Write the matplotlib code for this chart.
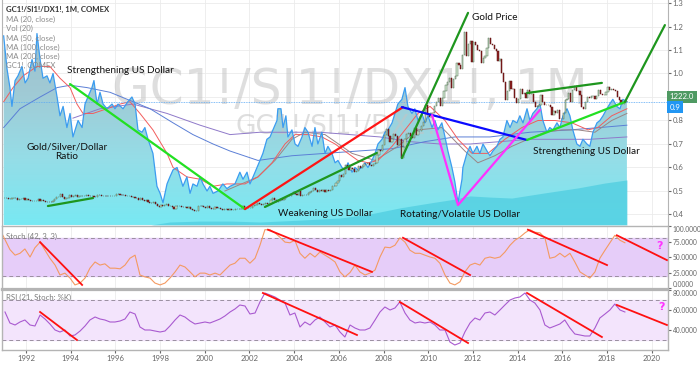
import numpy as np
import matplotlib
matplotlib.use("Agg")
import matplotlib.pyplot as plt
from matplotlib.colors import LinearSegmentedColormap

# ---- GC1!/SI1!/DX1! monthly ratio ----
ratio_years = [1991.00, 1991.15, 1991.28, 1991.37, 1991.51, 1991.64, 1991.82, 1991.96,
               1992.09, 1992.27, 1992.40, 1992.49, 1992.63, 1992.76, 1992.94,
               1993.07, 1993.21, 1993.39, 1993.52, 1993.66, 1993.83, 1993.97,
               1994.10, 1994.33, 1994.51, 1994.64, 1994.77, 1994.95,
               1995.04, 1995.18, 1995.31, 1995.45, 1995.62, 1995.85, 1995.98,
               1996.12, 1996.34, 1996.56, 1996.74, 1996.88,
               1997.01, 1997.19, 1997.32, 1997.46, 1997.68, 1997.86,
               1998.00, 1998.13, 1998.31, 1998.44, 1998.58, 1998.76, 1998.89,
               1999.02, 1999.20, 1999.34, 1999.47, 1999.65, 1999.79, 1999.92,
               2000.10, 2000.23, 2000.37, 2000.59, 2000.81, 2000.99,
               2001.13, 2001.35, 2001.57, 2001.71, 2001.89,
               2002.02, 2002.16, 2002.34, 2002.47, 2002.60, 2002.78, 2002.92,
               2003.05, 2003.23, 2003.27, 2003.41, 2003.50, 2003.63, 2003.72, 2003.90,
               2004.04, 2004.17, 2004.35, 2004.48, 2004.62, 2004.80, 2004.93,
               2005.06, 2005.24, 2005.38, 2005.51, 2005.69, 2005.83, 2005.96,
               2006.14, 2006.27, 2006.41, 2006.59, 2006.72, 2006.85,
               2007.03, 2007.17, 2007.30, 2007.48, 2007.62, 2007.75, 2007.93,
               2008.06, 2008.20, 2008.38, 2008.51, 2008.64, 2008.82, 2008.96,
               2009.09, 2009.27, 2009.40, 2009.54, 2009.72, 2009.85, 2009.99,
               2010.17, 2010.30, 2010.43, 2010.61, 2010.75, 2010.88,
               2011.06, 2011.19, 2011.33, 2011.51, 2011.55, 2011.73, 2011.87,
               2012.00, 2012.18, 2012.31, 2012.45, 2012.63, 2012.76, 2012.89,
               2013.07, 2013.21, 2013.34, 2013.52, 2013.66, 2013.79, 2013.97,
               2014.10, 2014.24, 2014.42, 2014.55, 2014.68, 2014.86,
               2015.00, 2015.13, 2015.31, 2015.44, 2015.58, 2015.76, 2015.89,
               2016.03, 2016.21, 2016.34, 2016.47, 2016.65, 2016.79, 2016.92,
               2017.10, 2017.23, 2017.37, 2017.55, 2017.68, 2017.82, 2017.99,
               2018.12, 2018.26, 2018.44, 2018.58, 2018.71, 2018.89]
ratio_vals = [1.16, 1.02, 0.94, 0.86, 0.97, 0.99, 1.03, 0.96,
              0.98, 1.06, 1.01, 1.17, 1.06, 0.98, 0.99,
              0.96, 1.00, 0.90, 0.82, 0.86, 0.77, 0.83,
              0.73, 0.80, 0.77, 0.87, 0.90, 0.94,
              0.97, 0.87, 0.92, 0.87, 0.85, 0.87, 0.85,
              0.87, 0.85, 0.88, 0.90, 0.87,
              0.76, 0.75, 0.77, 0.72, 0.66, 0.52,
              0.49, 0.45, 0.53, 0.56, 0.59, 0.60, 0.56,
              0.52, 0.56, 0.49, 0.53, 0.52, 0.56, 0.53,
              0.50, 0.52, 0.49, 0.50, 0.53, 0.51,
              0.52, 0.53, 0.58, 0.55, 0.58,
              0.53, 0.56, 0.60, 0.63, 0.66, 0.72, 0.73,
              0.76, 0.80, 0.85, 0.85, 0.77, 0.82, 0.73, 0.76,
              0.70, 0.69, 0.73, 0.77, 0.75, 0.69, 0.77,
              0.70, 0.75, 0.66, 0.69, 0.66, 0.62, 0.63,
              0.60, 0.59, 0.62, 0.58, 0.60, 0.59,
              0.60, 0.62, 0.60, 0.63, 0.66, 0.70, 0.72,
              0.75, 0.76, 0.79, 0.83, 0.87, 0.89, 0.94,
              0.86, 0.83, 0.85, 0.80, 0.83, 0.79, 0.82,
              0.77, 0.80, 0.76, 0.79, 0.73, 0.67,
              0.60, 0.54, 0.45, 0.55, 0.60, 0.66, 0.69,
              0.66, 0.69, 0.66, 0.70, 0.67, 0.65, 0.67,
              0.69, 0.72, 0.73, 0.80, 0.77, 0.80, 0.79,
              0.82, 0.79, 0.85, 0.80, 0.83, 0.85,
              0.87, 0.80, 0.75, 0.77, 0.76, 0.79, 0.77,
              0.82, 0.85, 0.82, 0.76, 0.70, 0.69, 0.72,
              0.70, 0.69, 0.75, 0.79, 0.80, 0.82, 0.85,
              0.87, 0.89, 0.86, 0.85, 0.89, 0.88]

# moving averages of the ratio
ma20_years = [1991.0, 1991.42, 1991.87, 1992.49, 1993.07, 1993.52, 1993.97, 1994.28, 1994.55,
              1995.00, 1995.62, 1996.21, 1996.65, 1997.10, 1997.68, 1998.31, 1998.58, 1999.20,
              1999.79, 2000.37, 2000.99, 2001.80, 2002.38, 2003.01, 2003.59, 2004.04, 2004.62,
              2005.24, 2005.83, 2006.41, 2006.85, 2007.30, 2007.75, 2008.38, 2008.96, 2009.54,
              2010.08, 2010.75, 2011.33, 2011.96, 2012.67, 2013.43, 2014.19, 2014.91, 2015.67,
              2016.43, 2017.15, 2017.59, 2018.21, 2018.89]
ma20_vals = [0.88, 0.94, 0.99, 1.03, 1.03, 0.98, 0.94, 0.87, 0.83,
             0.83, 0.85, 0.87, 0.88, 0.83, 0.76, 0.66, 0.60, 0.56,
             0.55, 0.52, 0.53, 0.53, 0.56, 0.62, 0.70, 0.74, 0.74,
             0.73, 0.70, 0.66, 0.63, 0.62, 0.63, 0.69, 0.76, 0.83,
             0.86, 0.80, 0.72, 0.66, 0.66, 0.72, 0.77, 0.80, 0.80,
             0.79, 0.76, 0.77, 0.82, 0.85]
ma50_years = [2000.90, 2002.38, 2003.14, 2003.90, 2004.48, 2005.38, 2006.59, 2007.62, 2008.64,
              2009.54, 2010.61, 2011.64, 2012.22, 2012.98, 2013.74, 2014.46, 2015.22, 2015.98,
              2016.70, 2017.46, 2018.21, 2018.89]
ma50_vals = [0.50, 0.56, 0.63, 0.72, 0.75, 0.74, 0.66, 0.63, 0.69,
             0.76, 0.77, 0.67, 0.62, 0.65, 0.69, 0.72, 0.75, 0.76,
             0.76, 0.75, 0.80, 0.83]
ma100_years = [1991.0, 1991.73, 1992.63, 1993.39, 1993.97, 1994.73, 1995.76, 1996.79, 1997.55,
               1998.58, 1999.47, 2000.37, 2001.13, 2002.38, 2003.90, 2005.38, 2006.85, 2008.38,
               2009.85, 2011.19, 2012.76, 2014.55, 2016.34, 2017.68, 2018.89]
ma100_vals = [0.77, 0.85, 0.90, 0.94, 0.95, 0.94, 0.92, 0.88, 0.85,
              0.79, 0.74, 0.70, 0.67, 0.63, 0.65, 0.66, 0.67, 0.68,
              0.71, 0.73, 0.73, 0.75, 0.76, 0.77, 0.78]
ma200_years = [1994.10, 1995.31, 1996.79, 1998.31, 1999.79, 2001.13, 2002.47, 2003.81, 2005.15,
               2006.50, 2007.84, 2009.18, 2010.52, 2011.87, 2013.21, 2014.55, 2015.89, 2017.23,
               2018.89]
ma200_vals = [0.81, 0.85, 0.87, 0.83, 0.78, 0.74, 0.75, 0.75, 0.75,
              0.74, 0.73, 0.71, 0.70, 0.70, 0.71, 0.72, 0.72, 0.72,
              0.73]

# Vol (20) band along the bottom
vol_years = [1991.0, 1997.55, 1998.44, 1999.79, 2001.13, 2002.47, 2004.26, 2006.05, 2007.39,
             2008.73, 2010.08, 2010.97, 2011.87, 2012.76, 2013.74, 2015.22, 2016.70, 2017.91,
             2018.89]
vol_vals = [0.355, 0.355, 0.368, 0.372, 0.372, 0.368, 0.376, 0.385, 0.402,
            0.428, 0.449, 0.462, 0.479, 0.474, 0.470, 0.492, 0.513, 0.534,
            0.547]

# GC1! monthly closes, Jan 1991 - Nov 2018
gold_close = [367, 363, 356, 357, 367, 367, 363, 348, 355, 358, 367, 353,
              354, 353, 341, 337, 337, 343, 357, 340, 349, 339, 334, 333,
              330, 328, 338, 355, 378, 378, 402, 372, 355, 370, 371, 391,
              378, 381, 391, 376, 387, 388, 384, 386, 395, 384, 383, 383,
              375, 376, 393, 390, 385, 387, 384, 382, 384, 383, 387, 387,
              405, 400, 396, 392, 391, 382, 385, 387, 379, 379, 371, 369,
              345, 364, 349, 340, 345, 334, 326, 325, 333, 311, 296, 290,
              303, 297, 301, 310, 294, 296, 288, 273, 294, 292, 294, 288,
              287, 287, 280, 286, 268, 262, 256, 254, 299, 300, 292, 290,
              283, 293, 278, 274, 272, 288, 277, 277, 273, 264, 270, 272,
              265, 267, 258, 264, 267, 270, 266, 273, 293, 279, 275, 279,
              282, 296, 302, 308, 326, 318, 304, 312, 324, 316, 317, 347,
              368, 347, 334, 338, 361, 346, 354, 375, 388, 386, 398, 416,
              399, 395, 426, 388, 394, 395, 391, 408, 416, 428, 453, 438,
              422, 434, 428, 435, 416, 436, 429, 433, 473, 470, 495, 517,
              569, 556, 582, 654, 643, 613, 633, 624, 599, 604, 648, 632,
              651, 669, 663, 679, 659, 650, 666, 673, 743, 789, 783, 834,
              923, 972, 916, 864, 885, 928, 913, 834, 884, 718, 815, 884,
              928, 942, 916, 891, 979, 926, 955, 955, 1001, 1040, 1182, 1097,
              1081, 1118, 1113, 1180, 1213, 1244, 1181, 1248, 1307, 1359, 1386, 1421,
              1332, 1411, 1439, 1556, 1536, 1500, 1628, 1829, 1620, 1725, 1746, 1566,
              1740, 1711, 1669, 1664, 1560, 1604, 1615, 1687, 1772, 1719, 1712, 1675,
              1663, 1578, 1595, 1472, 1393, 1234, 1312, 1395, 1327, 1323, 1250, 1202,
              1240, 1326, 1284, 1296, 1250, 1322, 1282, 1287, 1210, 1171, 1175, 1184,
              1278, 1213, 1183, 1184, 1190, 1172, 1095, 1132, 1114, 1141, 1064, 1060,
              1116, 1234, 1235, 1290, 1215, 1322, 1349, 1309, 1313, 1273, 1172, 1152,
              1211, 1253, 1249, 1268, 1268, 1242, 1269, 1316, 1280, 1271, 1275, 1302,
              1343, 1318, 1325, 1315, 1305, 1253, 1233, 1206, 1192, 1215, 1222]

# oscillators
osc_years = [1990.84, 1991.06, 1991.28, 1991.51, 1991.73, 1991.95, 1992.18, 1992.40, 1992.63, 1992.85,
             1993.07, 1993.30, 1993.52, 1993.74, 1993.97, 1994.19, 1994.42, 1994.64, 1994.86, 1995.09,
             1995.31, 1995.53, 1995.76, 1995.98, 1996.21, 1996.43, 1996.65, 1996.88, 1997.10, 1997.32,
             1997.55, 1997.77, 1998.00, 1998.22, 1998.44, 1998.67, 1998.89, 1999.11, 1999.34, 1999.56,
             1999.79, 2000.01, 2000.23, 2000.46, 2000.68, 2000.90, 2001.13, 2001.35, 2001.57, 2001.80,
             2002.02, 2002.25, 2002.47, 2002.69, 2002.92, 2003.14, 2003.36, 2003.59, 2003.81, 2004.03,
             2004.26, 2004.48, 2004.71, 2004.93, 2005.15, 2005.38, 2005.60, 2005.83, 2006.05, 2006.27,
             2006.50, 2006.72, 2006.94, 2007.17, 2007.39, 2007.62, 2007.84, 2008.06, 2008.29, 2008.51,
             2008.73, 2008.96, 2009.18, 2009.41, 2009.63, 2009.85, 2010.08, 2010.30, 2010.52, 2010.75,
             2010.97, 2011.19, 2011.42, 2011.64, 2011.87, 2012.09, 2012.31, 2012.54, 2012.76, 2012.98,
             2013.21, 2013.43, 2013.66, 2013.88, 2014.10, 2014.33, 2014.55, 2014.77, 2015.00, 2015.22,
             2015.44, 2015.67, 2015.89, 2016.11, 2016.34, 2016.56, 2016.79, 2017.01, 2017.23, 2017.46,
             2017.68, 2017.91, 2018.13, 2018.35, 2018.58, 2018.80]
stoch_vals = [94, 78, 62, 53, 56, 63, 50, 65, 74, 61,
              48, 37, 21, 24, 16, 5, 8, 16, 32, 42,
              37, 39, 32, 32, 31, 37, 48, 53, 21, 18,
              16, 8, 5, 8, 16, 26, 37, 34, 26, 18,
              24, 24, 21, 24, 21, 29, 37, 40, 48, 48,
              40, 48, 69, 94, 94, 89, 82, 74, 73, 77,
              56, 48, 56, 50, 58, 53, 48, 42, 26, 18,
              25, 37, 26, 21, 24, 29, 50, 66, 65, 69,
              81, 74, 61, 56, 56, 53, 50, 48, 40, 21,
              8, 5, 10, 26, 37, 40, 37, 48, 50, 48,
              50, 58, 69, 77, 82, 89, 94, 90, 89, 81,
              48, 50, 56, 50, 56, 42, 26, 21, 16, 26,
              48, 61, 73, 85, 77, 73]
rsi_vals = [58, 47, 45, 48, 50, 45, 44, 55, 51,
            46, 40, 38, 40, 34, 35, 39, 44, 50, 53,
            51, 50, 48, 48, 49, 51, 58, 56, 43, 40,
            40, 39, 38, 39, 44, 50, 55, 53, 49, 46,
            47, 48, 47, 49, 51, 54, 58, 61, 65, 64,
            56, 57, 68, 77, 75, 73, 70, 67, 55, 57,
            43, 48, 45, 50, 53, 48, 43, 45, 38, 33,
            45, 42, 40, 40, 42, 50, 58, 63, 60, 62,
            68, 57, 50, 47, 48, 47, 48, 45, 40, 40,
            28, 25, 27, 38, 47, 52, 50, 57, 58, 55,
            60, 65, 70, 72, 73, 77, 70, 67, 60, 45,
            42, 44, 46, 50, 42, 36, 35, 34, 34, 42,
            52, 56, 60, 66, 60, 58]

# trend lines drawn on the chart (year, value)
main_trend_x = [[1993.97, 2001.80], [2001.80, 2008.87], [2002.69, 2007.70], [1992.98, 1995.00],
                [2008.82, 2011.78], [2008.82, 2014.42], [2010.17, 2011.33, 2015.00],
                [2014.42, 2018.80], [2014.42, 2017.77], [2018.80, 2020.59]]
main_trend_y = [[0.955, 0.423], [0.423, 0.857], [0.432, 0.662], [0.436, 0.470],
                [0.640, 1.258], [0.857, 0.717], [0.823, 0.440, 0.845],
                [0.717, 0.879], [0.917, 0.960], [0.879, 1.206]]
main_trend_colors = ['#22e022', '#ff1414', '#1e961e', '#1e961e', '#1e961e', '#0a0aff',
                     '#ff30ff', '#22e022', '#1e961e', '#1e961e']
stoch_trend_x = [[1992.63, 1994.51], [2002.83, 2007.48], [2008.87, 2011.87], [2014.46, 2018.00], [2018.44, 2020.68]]
stoch_trend_y = [[74, 5], [94, 26], [81, 21], [94, 37], [85, 45]]
rsi_trend_x = [[1992.63, 1994.28], [2002.60, 2006.81], [2008.73, 2011.78], [2014.42, 2017.77], [2018.44, 2020.68]]
rsi_trend_y = [[58, 30], [77, 35], [68, 27], [77, 33], [65, 45]]

year_ticks = list(range(1992, 2021, 2))
ratio_ticks = [0.4, 0.5, 0.6, 0.7, 0.8, 0.9, 1.0, 1.1, 1.2, 1.3]
stoch_ticks = [0, 25, 50, 75, 100]
rsi_ticks = [40, 60, 80]

XMIN, XMAX = 1990.93, 2020.72
YMIN, YMAX = 0.3553, 1.3128
GRID = '#ebebeb'
SPINE = '#b4b4b4'
TICKC = '#666666'
ANN = dict(family='Lato', fontsize=7.2, color='#111111')
SMALL = dict(family='Lato', fontsize=5.6)
TICKS = dict(labelsize=4.8, labelfontfamily='Lato', colors=TICKC, length=2, pad=1.5)

fig = plt.figure(figsize=(7, 3.65), dpi=100)
ax = fig.add_axes([0.003, 0.3836, 0.951, 0.6164])
ax_st = fig.add_axes([0.003, 0.2082, 0.951, 0.1726], sharex=ax)
ax_rsi = fig.add_axes([0.003, 0.0411, 0.951, 0.1644], sharex=ax)

# ---------- main panel ----------
for y in year_ticks:
    for a in (ax, ax_st, ax_rsi):
        a.axvline(y, color=GRID, lw=0.6, zorder=0)
for t in ratio_ticks:
    ax.axhline(t, color=GRID, lw=0.6, zorder=0)

area = ax.fill_between(ratio_years, ratio_vals, YMIN, facecolor='none', edgecolor='none')
grad = np.linspace(0, 1, 256).reshape(-1, 1)
teal = LinearSegmentedColormap.from_list('teal', ['#78e9f3', '#95dde7', '#a0cad5', '#9bbfcb'])
im = ax.imshow(grad, extent=[XMIN, 2019.2, YMIN, 1.2], origin='lower', aspect='auto',
               cmap=teal, zorder=1)
im.set_clip_path(area.get_paths()[0], transform=ax.transData)
ax.fill_between(vol_years, vol_vals, YMIN, color='#4fcde0', alpha=0.75, lw=0, zorder=1.2)

ax.text(0.523, 0.60, 'GC1!/SI1!/DX1!, 1M', transform=ax.transAxes, fontsize=35,
        color='#c4c4c4', alpha=0.55, ha='center', va='center', zorder=1.5)
ax.text(0.502, 0.435, 'GC1!/SI1!/DX1!', transform=ax.transAxes, fontsize=19,
        color='#c4c4c4', alpha=0.55, ha='center', va='center', zorder=1.5)

ax.plot(ma200_years, ma200_vals, color='#8f79c9', lw=0.7, zorder=2)
ax.plot(ma100_years, ma100_vals, color='#5b7fd6', lw=0.7, zorder=2)
ax.plot(ma50_years, ma50_vals, color='#9a8585', lw=0.7, zorder=2)
ax.plot(ma20_years, ma20_vals, color='#f25c5c', lw=0.7, zorder=2)
ax.plot(ratio_years, ratio_vals, color='#3b9cf0', lw=0.9, zorder=2.2)
ax.axhline(ratio_vals[-1], color='#5aa9f5', lw=0.6, ls=(0, (1, 1)), zorder=2.1)

ax.set_xlim(XMIN, XMAX)
ax.set_ylim(YMIN, YMAX)

legend_lines = ['MA (20, close)', 'Vol (20)', 'MA (50, close)', 'MA (100, close)',
                'MA (200, close)', 'GC1!, COMEX']
ax.text(0.006, 0.956, 'GC1!/SI1!/DX1!, 1M, COMEX', transform=ax.transAxes,
        color='#333333', fontweight='bold', va='center', zorder=6, **SMALL)
for i, s in enumerate(legend_lines):
    ax.text(0.006, 0.913 - i * 0.041, s, transform=ax.transAxes,
            color='#8a8a8a', va='center', zorder=6, **SMALL)

# gold candles on their own price scale
ax_g = ax.twinx()
gx = [1991 + (i + 0.5) / 12 for i in range(len(gold_close))]
g_open = [gold_close[0]] + gold_close[:-1]
g_up = [c >= o for o, c in zip(g_open, gold_close)]
ax_g.bar(gx, [c - o for o, c in zip(g_open, gold_close)], bottom=g_open, width=0.055,
         color=['#d6ecd6' if u else '#8e2020' for u in g_up],
         edgecolor=['#4d6b4d' if u else '#5a1010' for u in g_up], linewidth=0.35, zorder=2)
ax_g.set_yticks([])
for s in ax_g.spines.values():
    s.set_visible(False)

# trend lines and notes go on top of the candles, in ratio units
for xs, ys, c in zip(main_trend_x, main_trend_y, main_trend_colors):
    ax_g.plot(xs, ys, color=c, lw=1.6, transform=ax.transData, zorder=4, solid_capstyle='round')
ax_g.set_ylim(129, 2111)

notes = [(1993.83, 1.011, 'Strengthening US Dollar', 'left'),
         (1993.83, 0.666, 'Gold/Silver/Dollar\nRatio', 'center'),
         (2005.38, 0.406, 'Weakening US Dollar', 'center'),
         (2011.42, 0.398, 'Rotating/Volatile US Dollar', 'center'),
         (2011.96, 1.240, 'Gold Price', 'left'),
         (2017.10, 0.666, 'Strengthening US Dollar', 'center')]
for x, y, s, ha in notes:
    ax_g.text(x, y, s, transform=ax.transData, ha=ha, va='center', multialignment='center',
              linespacing=1.05, zorder=5, **ANN)

# twinx moves the ratio ticks to the left, put them back on the right;
# the 0.9 level is shown by the price boxes instead of a plain label
ax.yaxis.tick_right()
ax.set_yticks(ratio_ticks)
ax.set_yticklabels(['' if t == 0.9 else f'{t:.1f}' for t in ratio_ticks])
ax.tick_params(axis='y', **TICKS)
ax.tick_params(axis='y', labelsize=5.6)
ax.tick_params(axis='x', bottom=False, labelbottom=False)
ax_g.tick_params(axis='x', bottom=False, labelbottom=False)

ytr = ax.get_yaxis_transform()
ax_g.text(1.003, 0.900, '1222.0', transform=ytr, ha='left', va='center',
          fontsize=5.6, family='Lato', color='white', clip_on=False, zorder=10,
          bbox=dict(boxstyle='square,pad=0.3', fc='#4f9a63', ec='none'))
ax_g.text(1.003, 0.857, '0.9', transform=ytr, ha='left', va='center',
          fontsize=5.6, family='Lato', color='white', clip_on=False, zorder=10,
          bbox=dict(boxstyle='square,pad=0.3', fc='#2196f3', ec='none'))

for side in ('top', 'bottom'):
    ax.spines[side].set_visible(False)
for side in ('left', 'right'):
    ax.spines[side].set_color(SPINE)

# ---------- stochastic ----------
ax_st.axhspan(20, 80, color='#e6cdf9', zorder=0.5)
for lvl in (20, 80):
    ax_st.axhline(lvl, color='#9a8fa0', lw=0.7, ls=(0, (4, 3)), zorder=1)
ax_st.plot(osc_years, stoch_vals, color='#f49a62', lw=0.8, zorder=2)
for xs, ys in zip(stoch_trend_x, stoch_trend_y):
    ax_st.plot(xs, ys, color='#ff1010', lw=1.3, zorder=3)
ax_st.text(2020.37, 68, '?', color='#ff33ff', fontsize=8, fontweight='bold', ha='center',
           va='center', zorder=4)
ax_st.text(0.006, 0.84, 'Stoch (42, 3, 3)', transform=ax_st.transAxes,
           color='#7a7a7a', va='center', **SMALL)
ax_st.set_ylim(-1.6, 100)
ax_st.set_yticks(stoch_ticks)
ax_st.set_yticklabels([f'{t:.4f}' for t in stoch_ticks])
ax_st.yaxis.tick_right()
ax_st.tick_params(axis='y', **TICKS)
ax_st.tick_params(axis='x', bottom=False, labelbottom=False)
ax_st.get_yticklabels()[0].set_va('bottom')
ax_st.get_yticklabels()[-1].set_va('top')

# ---------- RSI ----------
ax_rsi.axhspan(30, 70, color='#f3e4fc', zorder=0.5)
for lvl in (30, 70):
    ax_rsi.axhline(lvl, color='#9a8fa0', lw=0.7, ls=(0, (4, 3)), zorder=1)
ax_rsi.plot(osc_years[1:], rsi_vals, color='#a95ad0', lw=0.8, zorder=2)
for xs, ys in zip(rsi_trend_x, rsi_trend_y):
    ax_rsi.plot(xs, ys, color='#ff1010', lw=1.3, zorder=3)
ax_rsi.text(2020.46, 63, '?', color='#ff33ff', fontsize=8, fontweight='bold', ha='center',
            va='center', zorder=4)
ax_rsi.text(0.006, 0.87, 'RSI (21, Stoch: %K)', transform=ax_rsi.transAxes,
            color='#7a7a7a', va='center', **SMALL)
ax_rsi.set_ylim(20, 80)
ax_rsi.set_yticks(rsi_ticks)
ax_rsi.set_yticklabels([f'{t:.4f}' for t in rsi_ticks])
ax_rsi.yaxis.tick_right()
ax_rsi.tick_params(axis='y', **TICKS)
ax_rsi.get_yticklabels()[-1].set_va('top')
ax_rsi.set_xticks(year_ticks)
ax_rsi.set_xticklabels([str(y) for y in year_ticks])
ax_rsi.tick_params(axis='x', **TICKS)
ax_rsi.tick_params(axis='x', labelsize=5.6)

for a in (ax_st, ax_rsi):
    for s in a.spines.values():
        s.set_color(SPINE)
        s.set_linewidth(1.0)
ax_st.spines['bottom'].set_linewidth(1.6)
ax_rsi.spines['top'].set_linewidth(1.6)

fig.savefig('out.png', dpi=100)
